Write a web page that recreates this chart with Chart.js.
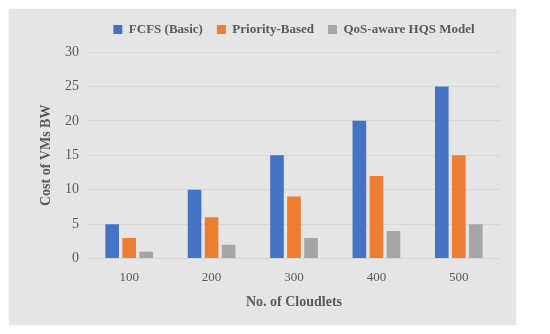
<!DOCTYPE html>
<html>
<head>
<meta charset="utf-8">
<script src="https://cdn.jsdelivr.net/npm/chart.js@4"></script>
<style>
  body { margin: 0; background: #fff; }
  #wrap {
    position: absolute; left: 9px; top: 9px; width: 507px; height: 316px;
    background: #e5e5e5; box-shadow: 0 0 1px #ccc;
  }
</style>
</head>
<body>
<div id="wrap"><canvas id="costChart"></canvas></div>
<script>
const cloudlets = ['100', '200', '300', '400', '500'];
const fcfs = [5, 10, 15, 20, 25];
const priority = [3, 6, 9, 12, 15];
const qosHqs = [1, 2, 3, 4, 5];

const serif = '"Liberation Serif", serif';
const textColor = '#595959';

// legend: fixed height, centered over the plot area like the original
const legendOverPlot = {
    id: 'legendOverPlot',
    beforeLayout(chart) {
        const lg = chart.legend;
        if (lg && !lg._fixed) {
            const fit = lg.fit.bind(lg);
            lg.fit = function () { fit(); this.height = 43; };
            lg._fixed = true;
        }
    },
    afterLayout(chart) {
        chart.legend.left = chart.chartArea.left;
        chart.legend.right = chart.chartArea.right;
    }
};

const ctx = document.getElementById('costChart').getContext('2d');
const costChart = new Chart(ctx, {
    type: 'bar',
    data: {
        labels: cloudlets,
        datasets: [
            { label: 'FCFS (Basic)', data: fcfs, backgroundColor: '#4472C4' },
            { label: 'Priority-Based', data: priority, backgroundColor: '#ED7D31' },
            { label: 'QoS-aware HQS Model', data: qosHqs, backgroundColor: '#A5A5A5' }
        ]
    },
    plugins: [legendOverPlot],
    options: {
        responsive: true,
        maintainAspectRatio: false,
        animation: false,
        datasets: {
            bar: { barPercentage: 0.8, categoryPercentage: 0.62 }
        },
        layout: { padding: { top: 0, right: 16, bottom: 12, left: 25 } },
        plugins: {
            legend: {
                position: 'top',
                labels: {
                    boxWidth: 9, boxHeight: 9, padding: 14,
                    color: textColor,
                    font: { family: serif, size: 13, weight: 'bold' }
                }
            },
            tooltip: { enabled: false }
        },
        scales: {
            x: {
                grid: { display: false },
                border: { display: false },
                ticks: { color: textColor, font: { family: serif, size: 13 }, padding: 3 },
                title: {
                    display: true, text: 'No. of Cloudlets', color: textColor,
                    font: { family: serif, size: 14, weight: 'bold' }, padding: { top: 6, bottom: 2 }
                }
            },
            y: {
                min: 0, max: 30,
                afterFit(scale) { scale.width = 54; },
                ticks: { stepSize: 5, color: textColor, font: { family: serif, size: 14 }, padding: 9 },
                grid: { color: '#d6d6d6', drawTicks: false },
                border: { display: false },
                title: {
                    display: true, text: 'Cost of VMs BW', color: textColor,
                    font: { family: serif, size: 14, weight: 'bold' }
                }
            }
        }
    }
});
</script>
</body>
</html>
